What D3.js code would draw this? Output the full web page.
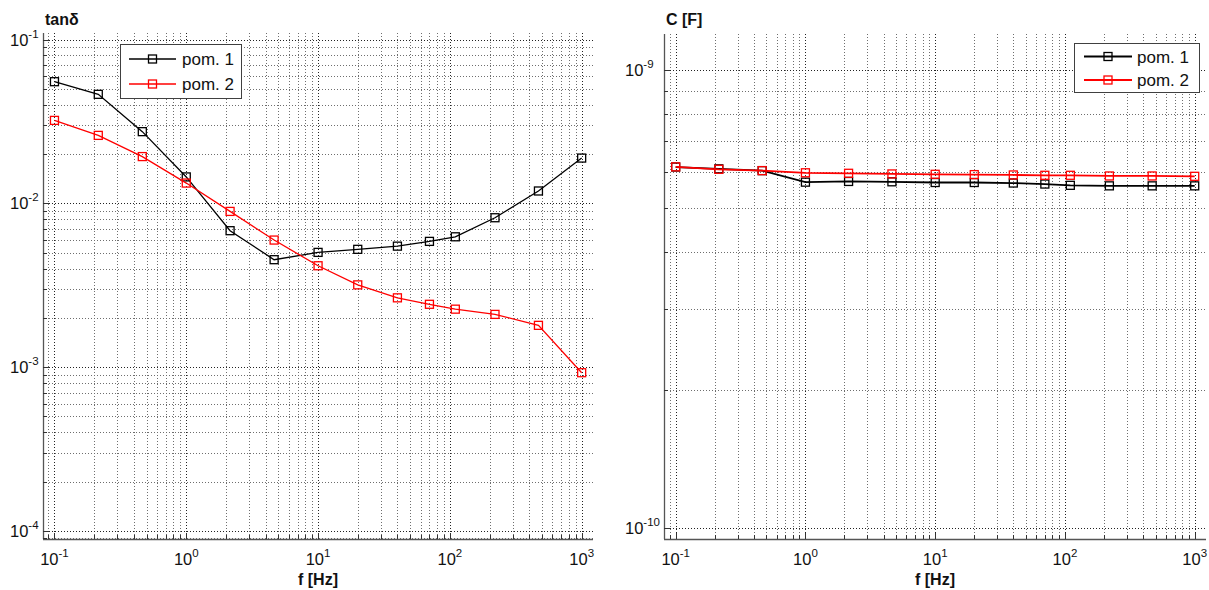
<!DOCTYPE html>
<html>
<head>
<meta charset="utf-8">
<script src="https://cdn.jsdelivr.net/npm/d3@7"></script>
<style>
  html, body { margin: 0; padding: 0; background: #fff; }
  svg { display: block; font-family: "Liberation Sans", Arial, sans-serif; }
</style>
</head>
<body>
<svg id="chart" width="1209" height="590"></svg>
<script>
// ---------- data ----------
const freq = [0.1, 0.215, 0.464, 1, 2.15, 4.64, 10, 20, 40, 70, 110, 220, 470, 1000];
const tanPom1 = [0.0553, 0.0463, 0.0274, 0.0145, 0.00681, 0.00453, 0.00502, 0.00524, 0.00548, 0.00586, 0.00625, 0.00817, 0.0119, 0.0189];
const tanPom2 = [0.0321, 0.0260, 0.0193, 0.0133, 0.00893, 0.00597, 0.00416, 0.00318, 0.00265, 0.00242, 0.00226, 0.00210, 0.00180, 0.000925];
const capPom1 = [6.14e-10, 6.085e-10, 6.03e-10, 5.69e-10, 5.71e-10, 5.70e-10, 5.68e-10, 5.68e-10, 5.665e-10, 5.636e-10, 5.60e-10, 5.585e-10, 5.585e-10, 5.585e-10];
const capPom2 = [6.145e-10, 6.07e-10, 6.03e-10, 5.965e-10, 5.95e-10, 5.93e-10, 5.92e-10, 5.91e-10, 5.90e-10, 5.89e-10, 5.89e-10, 5.87e-10, 5.87e-10, 5.86e-10];
const seriesNames = ["pom. 1", "pom. 2"];
const seriesColors = ["#000000", "#ff0000"];
const xTickValues = [0.1, 1, 10, 100, 1000];
const xTickExps = ["-1", "0", "1", "2", "3"];
const tanTickValues = [1e-1, 1e-2, 1e-3, 1e-4];
const tanTickExps = ["-1", "-2", "-3", "-4"];
const capTickValues = [1e-9, 1e-10];
const capTickExps = ["-9", "-10"];
const xLabel = "f [Hz]";
const tanLabel = "tanδ";
const capLabel = "C [F]";

// ---------- drawing ----------
const svg = d3.select("#chart");

function minorValues(domain) {
  const lo = Math.min(domain[0], domain[1]), hi = Math.max(domain[0], domain[1]);
  const out = [];
  for (let k = Math.floor(Math.log10(lo)) - 1; k <= Math.ceil(Math.log10(hi)); k++) {
    for (let m = 1; m <= 9; m++) {
      const v = m * Math.pow(10, k);
      if (v >= lo && v <= hi) out.push({ v, major: m === 1 });
    }
  }
  return out;
}

function drawPanel(cfg) {
  const g = svg.append("g");
  const x = d3.scaleLog().domain(cfg.xDomain).range([cfg.left, cfg.right]);
  const y = d3.scaleLog().domain(cfg.yDomain).range([cfg.top, cfg.bottom]);

  const xs = minorValues(cfg.xDomain);
  const ys = minorValues(cfg.yDomain);

  // grid
  const grid = g.append("g");
  grid.selectAll("line.gx").data(xs).join("line")
    .attr("x1", d => Math.round(x(d.v)) + 0.5).attr("x2", d => Math.round(x(d.v)) + 0.5)
    .attr("y1", cfg.top).attr("y2", cfg.bottom)
    .attr("stroke", d => d.major ? "#222" : "#6e6e6e")
    .attr("stroke-width", 1).attr("stroke-dasharray", "1,2");
  grid.selectAll("line.gy").data(ys).join("line")
    .attr("y1", d => Math.round(y(d.v)) + 0.5).attr("y2", d => Math.round(y(d.v)) + 0.5)
    .attr("x1", cfg.left).attr("x2", cfg.right)
    .attr("stroke", d => d.major ? "#222" : "#6e6e6e")
    .attr("stroke-width", 1).attr("stroke-dasharray", "1,2");

  // axes lines
  g.append("line").attr("x1", cfg.left).attr("x2", cfg.right)
    .attr("y1", cfg.bottom + 0.5).attr("y2", cfg.bottom + 0.5).attr("stroke", "#555").attr("stroke-width", 1.3);
  g.append("line").attr("x1", cfg.left + 0.5).attr("x2", cfg.left + 0.5)
    .attr("y1", cfg.top).attr("y2", cfg.bottom).attr("stroke", "#555").attr("stroke-width", 1.3);

  // ticks (inward)
  g.selectAll("line.tx").data(xs).join("line")
    .attr("x1", d => Math.round(x(d.v)) + 0.5).attr("x2", d => Math.round(x(d.v)) + 0.5)
    .attr("y1", cfg.bottom).attr("y2", d => cfg.bottom - (d.major ? 6 : 4))
    .attr("stroke", "#333").attr("stroke-width", 1);
  g.selectAll("line.ty").data(ys).join("line")
    .attr("y1", d => Math.round(y(d.v)) + 0.5).attr("y2", d => Math.round(y(d.v)) + 0.5)
    .attr("x1", cfg.left).attr("x2", d => cfg.left + (d.major ? 6 : 4))
    .attr("stroke", "#333").attr("stroke-width", 1);

  // x tick labels
  xTickValues.forEach((v, i) => {
    const t = g.append("text").attr("x", x(v)).attr("y", cfg.bottom + 26)
      .attr("text-anchor", "middle").attr("font-size", 16.5).attr("fill", "#111");
    t.append("tspan").text("10");
    t.append("tspan").attr("dy", -8).attr("font-size", 11.5).text(xTickExps[i]);
  });
  // y tick labels
  cfg.yTicks.forEach((v, i) => {
    const t = g.append("text").attr("x", cfg.yLabelX).attr("y", y(v) + 6)
      .attr("text-anchor", "start").attr("font-size", 16.5).attr("fill", "#111");
    t.append("tspan").text("10");
    t.append("tspan").attr("dy", -8).attr("font-size", 11.5).text(cfg.yExps[i]);
  });

  // axis titles
  g.append("text").attr("x", cfg.left + 2).attr("y", 25)
    .attr("font-size", 16).attr("font-weight", "bold").attr("fill", "#111").text(cfg.yLabel);
  g.append("text").attr("x", (cfg.left + cfg.right) / 2).attr("y", 585)
    .attr("text-anchor", "middle").attr("font-size", 16).attr("font-weight", "bold").attr("fill", "#111").text(xLabel);

  // series
  const line = d3.line().x(d => x(d[0])).y(d => y(d[1]));
  cfg.series.forEach((vals, si) => {
    const pts = freq.map((f, i) => [f, vals[i]]);
    g.append("path").datum(pts).attr("d", line)
      .attr("fill", "none").attr("stroke", seriesColors[si]).attr("stroke-width", cfg.lw);
    g.selectAll(null).data(pts).join("rect")
      .attr("x", d => x(d[0]) - 4).attr("y", d => y(d[1]) - 4)
      .attr("width", 8).attr("height", 8)
      .attr("fill", "none").attr("stroke", seriesColors[si]).attr("stroke-width", 1.3);
  });

  // legend
  const L = cfg.legend;
  const lg = g.append("g");
  lg.append("rect").attr("x", L.x + 0.5).attr("y", L.y + 0.5).attr("width", L.w).attr("height", L.h)
    .attr("fill", "#fff").attr("stroke", "#404040").attr("stroke-width", 1);
  seriesNames.forEach((name, i) => {
    const cy = L.y + L.row0 + i * L.rowStep;
    lg.append("line").attr("x1", L.x + L.lineX0).attr("x2", L.x + L.lineX1)
      .attr("y1", cy).attr("y2", cy).attr("stroke", seriesColors[i]).attr("stroke-width", cfg.lw);
    const mx = L.x + (L.lineX0 + L.lineX1) / 2;
    lg.append("rect").attr("x", mx - 4).attr("y", cy - 4).attr("width", 8).attr("height", 8)
      .attr("fill", "none").attr("stroke", seriesColors[i]).attr("stroke-width", 1.3);
    lg.append("text").attr("x", L.x + L.textX).attr("y", cy + 6)
      .attr("font-size", 17).attr("fill", "#111").text(name);
  });
}

drawPanel({
  left: 43, right: 593, top: 33, bottom: 539,
  xDomain: [Math.pow(10, -1.087), Math.pow(10, 3.086)],
  yDomain: [Math.pow(10, -0.96), Math.pow(10, -4.049)],
  yTicks: tanTickValues, yExps: tanTickExps, yLabelX: 10,
  yLabel: tanLabel,
  series: [tanPom1, tanPom2],
  lw: 1.3,
  legend: { x: 120, y: 44, w: 121, h: 54, row0: 15, rowStep: 25, lineX0: 9, lineX1: 56, textX: 62 }
});

drawPanel({
  left: 664, right: 1206, top: 34, bottom: 539,
  xDomain: [Math.pow(10, -1.09), Math.pow(10, 3.087)],
  yDomain: [Math.pow(10, -8.921), Math.pow(10, -10.025)],
  yTicks: capTickValues, yExps: capTickExps, yLabelX: 625,
  yLabel: capLabel,
  series: [capPom1, capPom2],
  lw: 1.8,
  legend: { x: 1074, y: 43, w: 125, h: 49, row0: 13.5, rowStep: 23.5, lineX0: 10, lineX1: 58, textX: 63 }
});
</script>
</body>
</html>
